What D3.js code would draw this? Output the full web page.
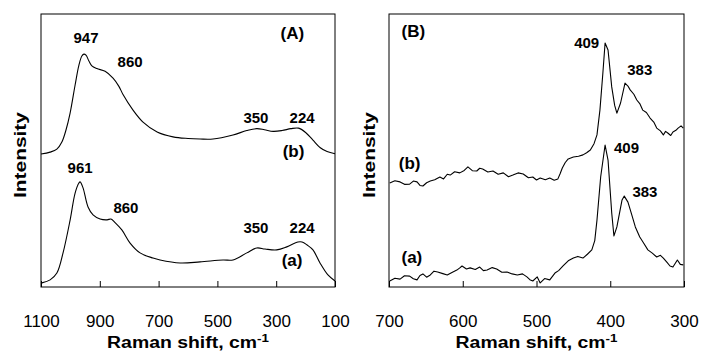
<!DOCTYPE html>
<html>
<head>
<meta charset="utf-8">
<script src="https://cdn.jsdelivr.net/npm/d3@7"></script>
<style>
  body { margin: 0; background: #fff; }
  svg { display: block; font-family: "Liberation Sans", Arial, sans-serif; }
</style>
</head>
<body>
<div id="chart"></div>
<script>
// spectra: [Raman shift cm-1, intensity (a.u.)]
var leftB = [[1100,48.7],[1069,49.4],[1046,50.5],[1029,53.1],[1015,57.5],[1001,63.7],[984,74.0],[971,81.3],
  [961,84.6],[954,85.3],[947,84.9],[937,82.8],[927,81.0],[910,80.0],[882,79.0],[855,76.5],[835,73.5],
  [821,70.5],[787,64.8],[753,60.4],[705,56.8],[651,55.0],[600,54.4],[559,54.2],[515,54.2],[447,55.7],
  [400,57.3],[366,58.0],[340,57.6],[310,57.0],[280,57.3],[250,58.0],[224,58.2],[200,56.6],[175,53.8],
  [150,51.0],[127,49.6],[100,48.8]];

var leftA = [[1097,1.5],[1069,2.6],[1046,5.1],[1025,12.5],[1001,24.5],[984,34.4],[971,38.1],[967,38.5],
  [957,36.3],[940,29.3],[923,26.4],[899,24.9],[875,24.6],[862,24.9],[848,23.6],[825,20.9],[797,16.1],
  [763,12.5],[719,10.6],[695,9.9],[627,8.8],[559,9.2],[481,9.9],[447,9.9],[400,12.5],[366,14.3],
  [338,13.9],[298,13.6],[264,14.7],[226,16.5],[212,16.5],[195,15.4],[175,13.6],[151,8.8],[124,4.4],
  [100,2.2]];

var rightB = [[699,38.1],[692,38.9],[685,38.5],[679,37.6],[672,37.7],[667,38.8],[662,38.5],[658,37.2],
  [654,37.0],[649,38.2],[644,38.8],[638,39.3],[631,40.3],[626,39.6],[621,41.3],[617,41.0],[611,42.2],
  [604,41.8],[598,42.7],[593,44.0],[587,42.6],[581,42.5],[577,43.5],[573,43.2],[566,42.1],[559,42.5],
  [552,41.3],[545,41.8],[538,40.4],[532,41.0],[525,41.8],[518,41.4],[511,40.0],[505,40.3],[500,39.2],
  [495,39.9],[488,39.3],[482,39.9],[476,39.1],[471,39.6],[468,41.5],[465,43.6],[461,45.6],[457,46.9],
  [450,47.6],[443,47.9],[437,48.4],[432,49.2],[427,50.2],[422,52.5],[418,55.7],[414,64.8],[410,78.4],
  [407,89.4],[403,86.8],[398,73.3],[394,66.5],[391,63.7],[386,67.4],[380,74.7],[376,73.6],[373,72.2],
  [368,70.6],[364,68.5],[360,67.2],[356,64.8],[351,63.9],[346,61.9],[341,60.4],[337,58.2],[332,57.2],
  [328,55.7],[325,57.0],[322,56.4],[318,55.5],[315,56.8],[311,57.4],[308,58.2],[304,59.0],[301,58.2]];

var rightA = [[699,2.2],[692,3.2],[685,2.9],[679,4.1],[672,4.0],[667,3.0],[662,2.6],[658,4.2],[654,4.8],
  [649,3.6],[644,4.4],[639,5.8],[634,5.5],[627,4.9],[621,4.4],[614,5.4],[608,6.2],[604,7.0],[601,7.7],
  [595,6.6],[590,7.0],[583,6.4],[577,7.3],[572,6.0],[567,6.2],[560,7.1],[554,6.6],[547,5.4],[540,5.5],
  [533,4.8],[526,4.4],[519,4.8],[513,3.7],[509,2.7],[505,2.2],[499,3.7],[495,1.5],[489,3.1],[482,2.6],
  [475,5.1],[470,6.0],[464,7.7],[457,9.6],[450,10.6],[444,11.2],[437,10.6],[431,12.0],[425,13.6],
  [421,17.0],[418,24.5],[413,40.3],[407,52.0],[403,46.5],[398,27.1],[395,18.7],[391,22.0],[384,31.9],
  [381,33.3],[376,31.1],[371,26.6],[366,22.0],[360,18.3],[355,16.2],[349,13.6],[343,12.4],[337,11.0],
  [332,11.6],[328,10.6],[323,9.0],[319,7.7],[315,7.3],[312,8.6],[309,9.9],[305,8.3],[301,8.1]];

var leftTicks  = [1100, 900, 700, 500, 300, 100];
var rightTicks = [700, 600, 500, 400, 300];

// annotations: [text, shift, intensity]
var leftPeaks  = [['947',947,89.4],['860',797,80.6],['350',369,60.1],['224',212,60.1],
                  ['961',967,41.8],['860',811,27.1],['350',369,19.8],['224',212,19.8]];
var leftTags   = [['(A)',245,90.8],['(b)',241,47.6],['(a)',246,7.7]];
var rightPeaks = [['409',432,87.5],['383',360,77.7],['409',378,49.1],['383',353,33.0]];
var rightTags  = [['(B)',667,91.6],['(b)',672,43.2],['(a)',669,8.8]];

var width = 702, height = 354;
var plotTop = 14, plotBottom = 287;

var svg = d3.select('#chart').append('svg')
  .attr('width', width)
  .attr('height', height);

svg.append('rect')
  .attr('width', width)
  .attr('height', height)
  .style('fill', '#fff');

// stretch a text element horizontally around its centre to a target width
function fit_width(sel, target) {
  var bb = sel.node().getBBox();
  var cx = bb.x + bb.width / 2;
  var s = target / bb.width;
  sel.attr('transform', 'translate(' + cx + ',0) scale(' + s + ',1) translate(' + (-cx) + ',0)');
}

function draw_panel(opts) {
  var x = d3.scaleLinear().domain(opts.domain).range([opts.left, opts.right]);
  var y = d3.scaleLinear().domain([0, 100]).range([plotBottom, plotTop]);

  var g = svg.append('g');

  var line = d3.line()
    .x(function(d) { return x(d[0]); })
    .y(function(d) { return y(d[1]); })
    .curve(opts.smooth ? d3.curveCatmullRom.alpha(0.5) : d3.curveLinear);

  g.selectAll('path.spectrum')
    .data(opts.series)
    .enter().append('path')
    .attr('class', 'spectrum')
    .attr('d', line)
    .style('fill', 'none')
    .style('stroke', '#000')
    .style('stroke-width', 1.1)
    .style('stroke-linejoin', 'round');

  var axis = d3.axisBottom(x)
    .tickValues(opts.ticks)
    .tickSizeInner(-6)
    .tickSizeOuter(0)
    .tickPadding(28)
    .tickFormat(d3.format('d'));

  var ax = g.append('g')
    .attr('transform', 'translate(0,' + plotBottom + ')')
    .call(axis);

  ax.select('.domain').remove();
  ax.selectAll('line').style('stroke', '#000');
  ax.selectAll('text')
    .style('font-size', '17px')
    .style('fill', '#000')
    .style('font-family', '"Liberation Sans", Arial, sans-serif');

  g.append('rect')
    .attr('x', opts.left)
    .attr('y', plotTop)
    .attr('width', opts.right - opts.left)
    .attr('height', plotBottom - plotTop)
    .style('fill', 'none')
    .style('stroke', '#000')
    .style('stroke-width', 1);

  g.selectAll('text.peak')
    .data(opts.peaks)
    .enter().append('text')
    .attr('class', 'peak')
    .attr('x', function(d) { return x(d[1]); })
    .attr('y', function(d) { return y(d[2]); })
    .attr('text-anchor', 'middle')
    .style('font-size', '15px')
    .style('font-weight', 'bold')
    .text(function(d) { return d[0]; });

  g.selectAll('text.tag')
    .data(opts.tags)
    .enter().append('text')
    .attr('class', 'tag')
    .attr('x', function(d) { return x(d[1]); })
    .attr('y', function(d) { return y(d[2]); })
    .attr('text-anchor', 'middle')
    .style('font-size', '17px')
    .style('font-weight', 'bold')
    .text(function(d) { return d[0]; });

  var xt = g.append('text')
    .attr('x', (opts.left + opts.right) / 2)
    .attr('y', 348)
    .attr('text-anchor', 'middle')
    .style('font-size', '16px')
    .style('font-weight', 'bold');
  xt.append('tspan').text('Raman shift, cm');
  xt.append('tspan')
    .attr('dy', -6)
    .style('font-size', '11px')
    .text('-1');
  fit_width(xt, 162);

  var yt = g.append('g')
    .attr('transform', 'translate(' + opts.ylabelX + ',155) rotate(-90)');
  var ytext = yt.append('text')
    .attr('text-anchor', 'middle')
    .style('font-size', '16px')
    .style('font-weight', 'bold')
    .text('Intensity');
  fit_width(ytext, 86);
}

draw_panel({
  domain: [1100, 100], left: 41, right: 335,
  series: [leftB, leftA], ticks: leftTicks,
  peaks: leftPeaks, tags: leftTags,
  smooth: true, ylabelX: 26
});

draw_panel({
  domain: [700, 300], left: 389, right: 684,
  series: [rightB, rightA], ticks: rightTicks,
  peaks: rightPeaks, tags: rightTags,
  smooth: false, ylabelX: 375
});
</script>
</body>
</html>
